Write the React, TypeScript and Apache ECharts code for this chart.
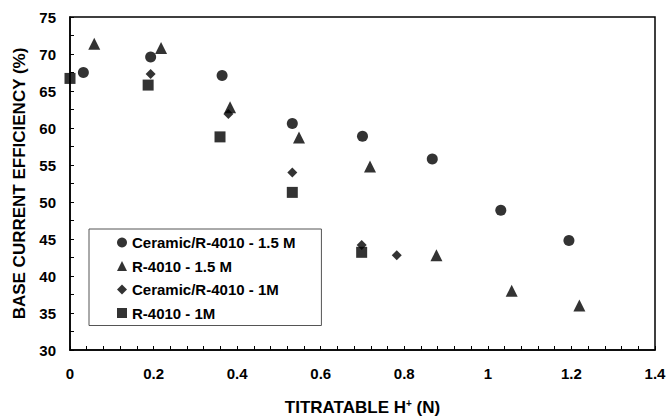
import React, { useEffect, useRef } from "react";
import * as echarts from "echarts";

const seriesNames = [
  "Ceramic/R-4010 - 1.5 M",
  "R-4010 - 1.5 M",
  "Ceramic/R-4010 - 1M",
  "R-4010 - 1M",
];
const symbols = ["circle", "triangle", "diamond", "rect"];
const symbolSizes = [11, 12, 10, 11];

const ceramic15X = [0.032, 0.193, 0.364, 0.532, 0.7, 0.867, 1.031, 1.194];
const ceramic15Y = [67.5, 69.6, 67.1, 60.6, 58.9, 55.8, 48.9, 44.8];

const r401015X = [0.058, 0.218, 0.383, 0.548, 0.718, 0.877, 1.057, 1.219];
const r401015Y = [71.4, 70.8, 62.8, 58.7, 54.8, 42.8, 38.0, 36.0];

const ceramic1X = [0.193, 0.379, 0.532, 0.698, 0.782];
const ceramic1Y = [67.3, 61.9, 54.0, 44.2, 42.8];

const r40101X = [0, 0.187, 0.359, 0.532, 0.698];
const r40101Y = [66.7, 65.8, 58.8, 51.3, 43.2];

const xs = [ceramic15X, r401015X, ceramic1X, r40101X];
const ys = [ceramic15Y, r401015Y, ceramic1Y, r40101Y];

const FONT = "'Liberation Sans', Arial, Helvetica, sans-serif";

export default function App() {
  const ref = useRef<HTMLDivElement>(null);
  useEffect(() => {
    if (!ref.current) return;
    const chart = echarts.init(ref.current, null, { renderer: "svg" });
    const series = seriesNames.map((name, i) => ({
      name,
      type: "scatter",
      symbol: symbols[i],
      symbolSize: symbolSizes[i],
      clip: false,
      itemStyle: { color: "#000" },
      data: xs[i].map((x, j) => [x, ys[i][j]]),
    }));
    chart.setOption({
      animation: false,
      backgroundColor: "#fff",
      textStyle: { fontFamily: FONT },
      grid: {
        left: 70,
        top: 17,
        right: 13,
        bottom: 67,
        outerBoundsMode: "none",
        containLabel: false,
        show: true,
        borderColor: "#000",
        borderWidth: 1.5,
        backgroundColor: "transparent",
      },
      legend: {
        orient: "vertical",
        left: 89,
        top: 229,
        padding: [6, 26, 5, 28],
        itemGap: 8.5,
        itemWidth: 10,
        itemHeight: 10,
        borderColor: "#555",
        borderWidth: 1,
        backgroundColor: "#fff",
        data: seriesNames,
        textStyle: {
          fontFamily: FONT,
          fontWeight: "bold",
          fontSize: 15,
          color: "#000",
        },
      },
      xAxis: {
        type: "value",
        min: 0,
        max: 1.4,
        interval: 0.2,
        name: "TITRATABLE H{sup|+} (N)",
        nameLocation: "middle",
        nameGap: 48,
        nameTextStyle: {
          fontFamily: FONT,
          fontWeight: "bold",
          fontSize: 17,
          color: "#000",
          rich: {
            sup: {
              fontFamily: FONT,
              fontWeight: "bold",
              fontSize: 10,
              color: "#000",
              verticalAlign: "top",
              padding: [0, 0, 8, 0],
            },
          },
        },
        axisLine: { lineStyle: { color: "#000", width: 1.5 } },
        axisTick: { inside: true, length: 4, lineStyle: { color: "#000" } },
        minorTick: { show: true, splitNumber: 5, length: 4, lineStyle: { color: "#000" } },
        splitLine: { show: false },
        axisLabel: {
          margin: 16,
          fontFamily: FONT,
          fontWeight: "bold",
          fontSize: 15,
          color: "#000",
          formatter: (v: number) => String(Math.round(v * 10) / 10),
        },
      },
      yAxis: {
        type: "value",
        min: 30,
        max: 75,
        interval: 5,
        name: "BASE CURRENT EFFICIENCY (%)",
        nameLocation: "middle",
        nameGap: 36,
        nameTextStyle: {
          fontFamily: FONT,
          fontWeight: "bold",
          fontSize: 17,
          color: "#000",
        },
        axisLine: { show: true, lineStyle: { color: "#000", width: 1.5 } },
        axisTick: { show: true, inside: true, length: 4, lineStyle: { color: "#000" } },
        minorTick: { show: true, splitNumber: 2, length: 4, lineStyle: { color: "#000" } },
        splitLine: { show: false },
        axisLabel: {
          margin: 14,
          fontFamily: FONT,
          fontWeight: "bold",
          fontSize: 15,
          color: "#000",
        },
      },
      series,
    });
    return () => chart.dispose();
  }, []);
  return <div ref={ref} style={{ width: 668, height: 417, position: "absolute", left: 0, top: 0 }} />;
}
